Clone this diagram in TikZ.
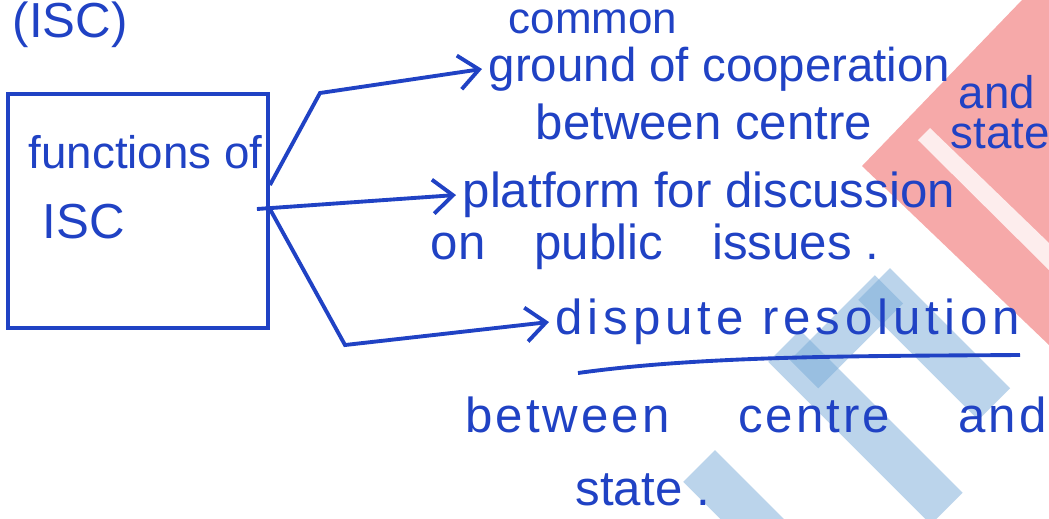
\documentclass[tikz,border=0pt]{standalone}
\usepackage{fontspec}
\setmainfont{Liberation Sans}
\usetikzlibrary{arrows.meta,positioning}

\definecolor{ink}{RGB}{32,66,196}
\definecolor{markred}{RGB}{243,140,140}
\definecolor{markblue}{RGB}{120,170,215}

\tikzset{
  note/.style={text=ink, font=\fontsize{14}{16}\selectfont, inner sep=0pt, anchor=west},
  small note/.style={note, font=\fontsize{13}{15}\selectfont},
  pen/.style={draw=ink, line width=1.1pt},
  branch/.style={pen, -{Straight Barb[length=2mm,width=3.4mm]}},
}

\begin{document}
\begin{tikzpicture}[x=0.1mm,y=-0.1mm]
    \useasboundingbox (0,0) rectangle (1049,518);

    % faint watermark behind the notes
    \fill[markred, opacity=0.75] (1022,0) -- (1049,0) -- (1049,345) -- (862,166) -- cycle;
    \fill[white, opacity=0.8] (918,140) -- (930,128) -- (1049,243) -- (1049,270) -- cycle;
    \fill[markblue, opacity=0.5, rotate around={-45:(890,268)}] (890,268) rectangle ++(170,45);
    \fill[markblue, opacity=0.5, rotate around={-45:(800,330)}] (800,330) rectangle ++(230,45);
    \fill[markblue, opacity=0.5, rotate around={45:(790,360)}] (790,360) rectangle ++(120,40);
    \fill[markblue, opacity=0.5, rotate around={-45:(715,450)}] (715,450) rectangle ++(120,45);

    % heading and the box
    \node[note] (title) at (12,25) {(ISC)};
    \node[pen, minimum width=26mm, minimum height=23.4mm] (isc) at (138,211) {};
    \node[small note] (fn) at (28,152) {functions of};
    \node[note] (iscname) at (42,222) {ISC};

    % first function
    \node[small note, font=\fontsize{12.5}{14}\selectfont] (t1a) at (508,22) {common};
    \node[note, font=\fontsize{13.5}{15}\selectfont] (t1b) at (488,69) {ground of cooperation};
    \node[note] (t1c) at (535,122) {between centre};
    \node[small note] (t1d) at (958,92) {and};
    \node[small note] (t1e) at (950,134) {state};

    % second function
    \node[note] (t2a) at (462,195) {platform for discussion};
    \node[note] (t2b) at (430,247) {on\quad public\quad issues .};

    % third function
    \node[note, font=\fontsize{14}{16}\selectfont\addfontfeature{LetterSpace=10}] (t3a) at (555,322) {dispute resolution};
    \node[note, font=\fontsize{14}{16}\selectfont\addfontfeature{LetterSpace=6}] (t3b) at (465,415) {between\hspace{1.4em}centre\hspace{1.4em}and};
    \node[note] (t3c) at (575,490) {state .};
    \draw[pen] (578,373) .. controls (700,356) and (850,356) .. (1020,355);

    % branches out of the box
    \coordinate (bend1) at (320,93);
    \coordinate (bend3) at (345,345);
    \draw[branch] ([yshift=2.6mm]isc.east) -- (bend1) -- ([xshift=-0.6mm]t1b.west);
    \draw[branch] ([xshift=-1.3mm,yshift=0.2mm]isc.east) -- ([xshift=-0.6mm]t2a.west);
    \draw[branch] ([yshift=0.2mm]isc.east) -- (bend3) -- ([xshift=-0.6mm]t3a.west);

\end{tikzpicture}
\end{document}
